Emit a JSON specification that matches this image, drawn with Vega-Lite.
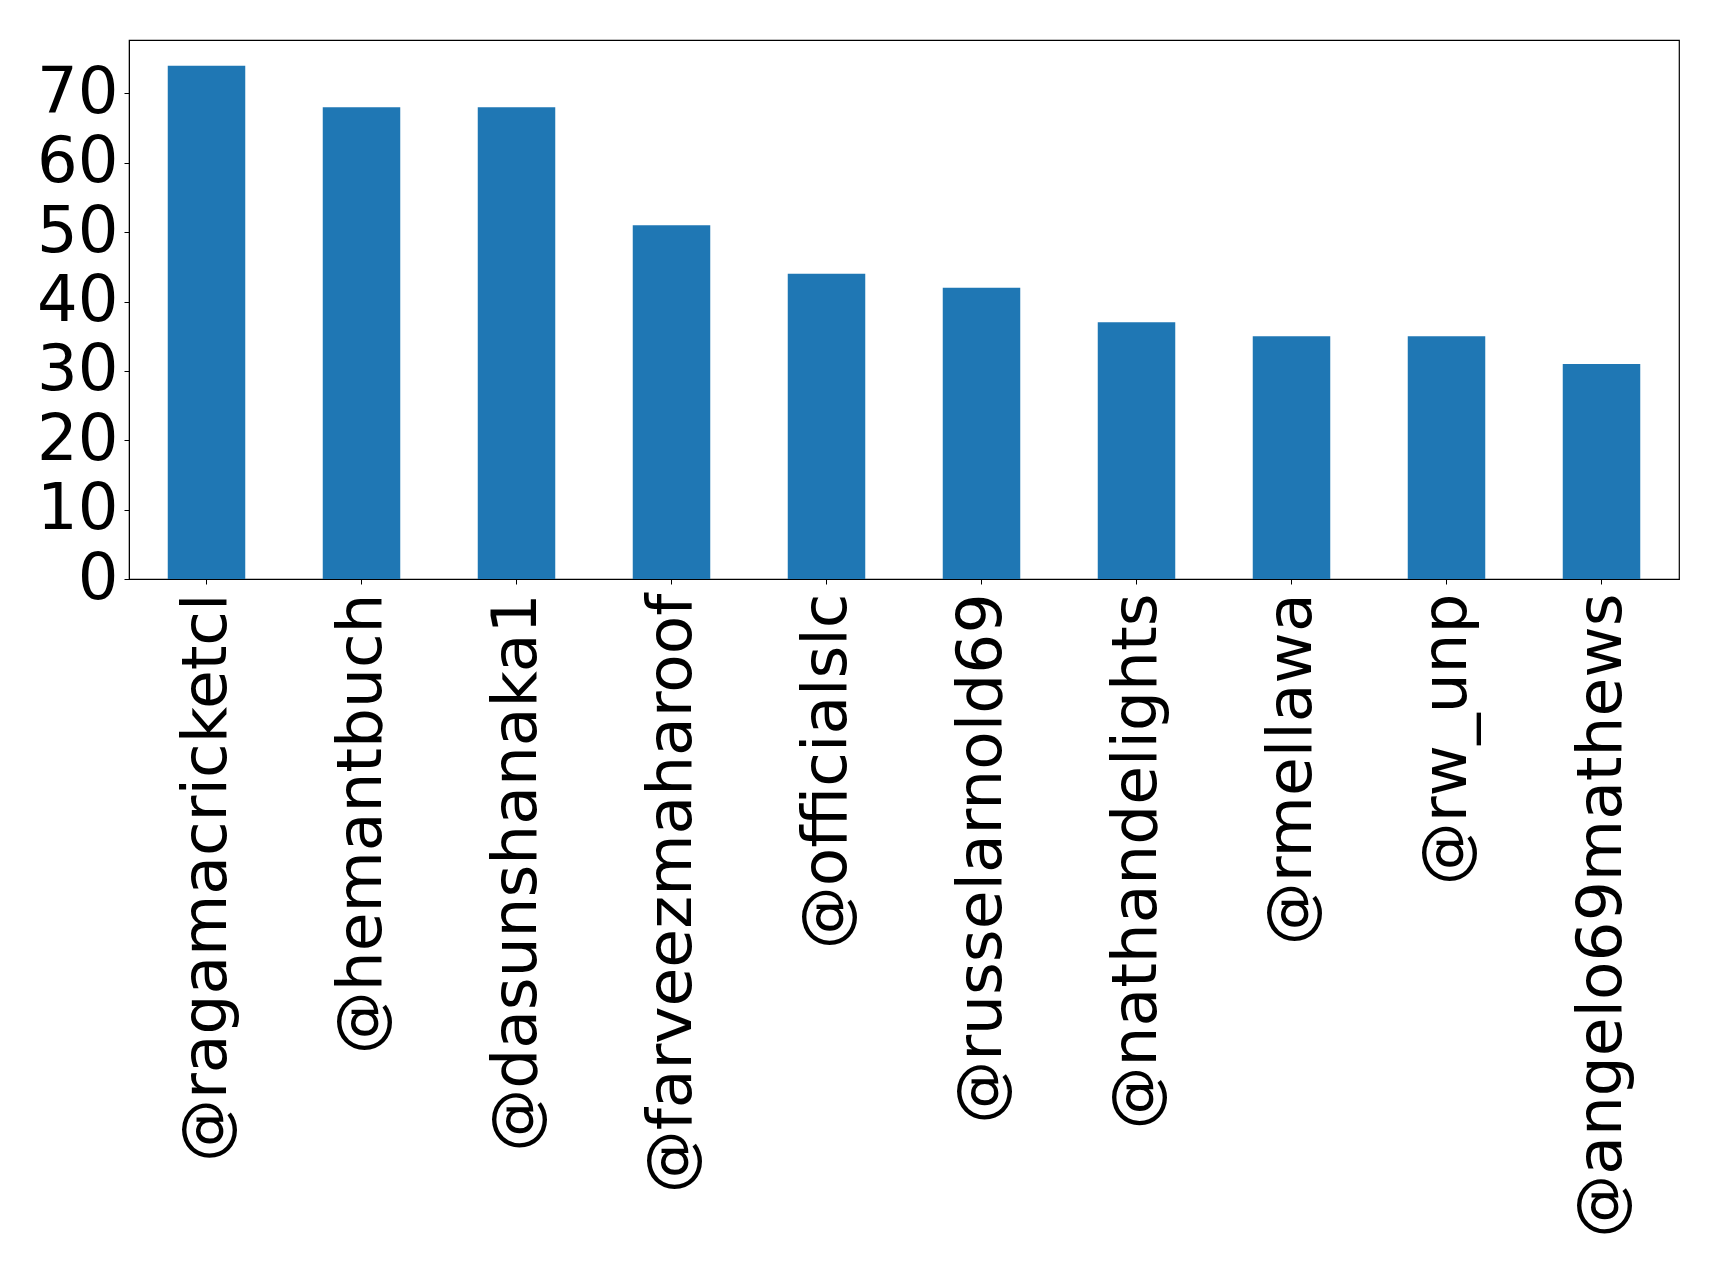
{
  "$schema": "https://vega.github.io/schema/vega-lite/v6.json",
  "width": 1550,
  "height": 539,
  "autosize": {"type": "none"},
  "padding": {"left": 129, "top": 40, "right": 40, "bottom": 688},
  "background": "white",
  "config": {
    "view": {"stroke": "black", "strokeWidth": 1.2},
    "font": "DejaVu Sans",
    "axis": {
      "domainColor": "black",
      "tickColor": "black",
      "tickSize": 5,
      "tickWidth": 1,
      "labelColor": "black",
      "labelFont": "DejaVu Sans",
      "grid": false
    }
  },
  "data": {
    "values": [
      {"user": "@ragamacricketcl", "count": 74},
      {"user": "@hemantbuch", "count": 68},
      {"user": "@dasunshanaka1", "count": 68},
      {"user": "@farveezmaharoof", "count": 51},
      {"user": "@officialslc", "count": 44},
      {"user": "@russelarnold69", "count": 42},
      {"user": "@nathandelights", "count": 37},
      {"user": "@rmellawa", "count": 35},
      {"user": "@rw_unp", "count": 35},
      {"user": "@angelo69mathews", "count": 31}
    ]
  },
  "mark": {"type": "bar", "color": "#1f77b4"},
  "encoding": {
    "x": {
      "field": "user",
      "type": "nominal",
      "sort": null,
      "scale": {"paddingInner": 0.5, "paddingOuter": 0.25},
      "axis": {
        "title": null,
        "labelAngle": 270,
        "labelAlign": "right",
        "labelBaseline": "middle",
        "labelFontSize": 63,
        "labelPadding": 9,
        "labelLimit": 0
      }
    },
    "y": {
      "field": "count",
      "type": "quantitative",
      "scale": {"domain": [0, 77.7], "nice": false, "zero": true},
      "axis": {
        "title": null,
        "values": [0, 10, 20, 30, 40, 50, 60, 70],
        "labelFontSize": 64,
        "labelPadding": 6,
        "labelBaseline": "middle"
      }
    }
  }
}
